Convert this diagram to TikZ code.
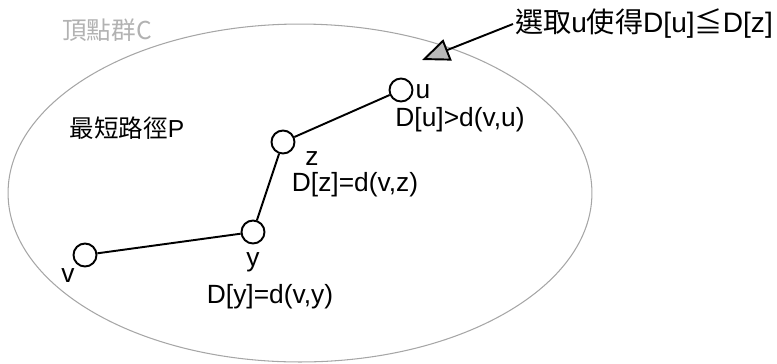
\documentclass[tikz,border=0pt]{standalone}
\usepackage{fontspec}
\setmainfont{Liberation Sans}
\newfontfamily\cjk{Noto Sans CJK TC}
\usepackage{tikz}
\usetikzlibrary{arrows.meta, positioning}

\begin{document}
\begin{tikzpicture}[
    x=0.02cm, y=-0.02cm,
    vertex/.style={circle, draw, line width=1.1pt, minimum size=0.46cm, inner sep=0pt},
    link/.style={line width=1.1pt},
    tag/.style={font=\fontsize{15}{18}\selectfont, inner sep=1pt},
    pointer/.style={-{Triangle[length=5.5mm, width=4.5mm, fill=gray!55]}, line width=1.1pt}
]
\useasboundingbox (0,0) rectangle (777,363);
\draw[gray!70, line width=0.6pt] (300,193) ellipse [x radius=5.84cm, y radius=3.38cm];
\node[font=\cjk\fontsize{14}{16}\selectfont, text=gray!60] (setC) at (107,30) {頂點群C};
\node[font=\fontsize{14}{16}\selectfont] (pathP) at (127,128) {{\cjk 最短路徑}P};

\node[vertex] (v) at (85,255) {};
\node[vertex] (y) at (253,232) {};
\node[vertex] (z) at (283,142) {};
\node[vertex] (u) at (401,90) {};

\draw[link] (v) -- (y);
\draw[link] (y) -- (z);
\draw[link] (z) -- (u);

\node[tag] (vname) at (68,276) {v};
\node[tag] (yname) at (253,262) {y};
\node[tag] (zname) at (312,159) {z};
\node[tag] (uname) at (423,92) {u};
\node[tag] (ydist) at (270,297) {D[y]=d(v,y)};
\node[tag] (zdist) at (355,185) {D[z]=d(v,z)};
\node[tag] (udist) at (460,120) {D[u]>d(v,u)};

% annotation
\node[font=\fontsize{16}{19}\selectfont, anchor=west, inner sep=1pt] (note) at (513,24)
  {{\cjk 選取}u{\cjk 使得}D[u]{\cjk ≦}D[z]};
\coordinate (pick) at (422,60);
\draw[pointer] (note.west) -- (pick);
\end{tikzpicture}
\end{document}
